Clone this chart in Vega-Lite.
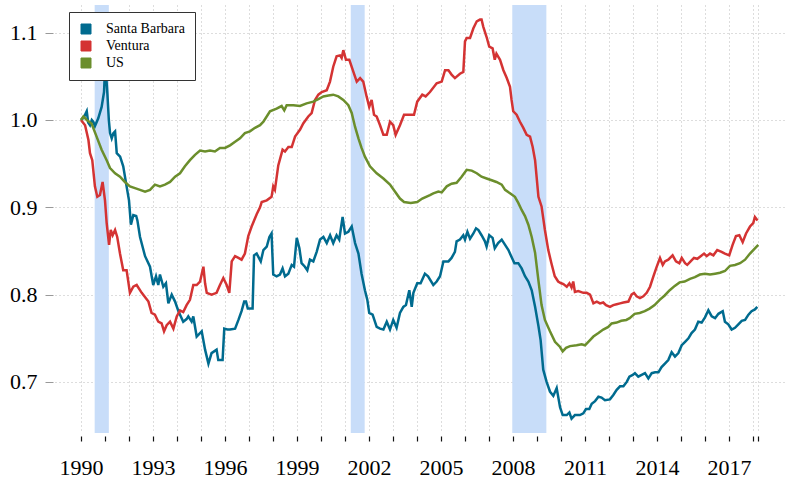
{
  "$schema": "https://vega.github.io/schema/vega-lite/v6.json",
  "width": 731,
  "height": 428,
  "autosize": {"type": "none"},
  "padding": {"left": 55, "top": 5, "right": 0, "bottom": 47},
  "background": "white",
  "config": {"view": {"stroke": null}, "font": "serif",
             "axisX": {"labelOverlap": false}},
  "datasets": {
    "rec": [
      {"start": 1990.57, "end": 1991.16},
      {"start": 2001.24, "end": 2001.82},
      {"start": 2007.97, "end": 2009.39}
    ],
    "series": [
      {"s":"Santa Barbara","t":1990.00,"v":1.000},{"s":"Santa Barbara","t":1990.12,"v":1.003},{"s":"Santa Barbara","t":1990.24,"v":1.010},{"s":"Santa Barbara","t":1990.30,"v":0.997},{"s":"Santa Barbara","t":1990.375,"v":0.994},{"s":"Santa Barbara","t":1990.45,"v":1.000},{"s":"Santa Barbara","t":1990.51,"v":0.998},{"s":"Santa Barbara","t":1990.58,"v":0.993},{"s":"Santa Barbara","t":1990.72,"v":1.002},{"s":"Santa Barbara","t":1990.86,"v":1.015},{"s":"Santa Barbara","t":1990.96,"v":1.032},{"s":"Santa Barbara","t":1991.00,"v":1.058},{"s":"Santa Barbara","t":1991.04,"v":1.055},{"s":"Santa Barbara","t":1991.10,"v":1.030},{"s":"Santa Barbara","t":1991.16,"v":1.000},{"s":"Santa Barbara","t":1991.21,"v":0.985},{"s":"Santa Barbara","t":1991.28,"v":0.979},{"s":"Santa Barbara","t":1991.35,"v":0.985},{"s":"Santa Barbara","t":1991.42,"v":0.987},{"s":"Santa Barbara","t":1991.49,"v":0.962},{"s":"Santa Barbara","t":1991.63,"v":0.958},{"s":"Santa Barbara","t":1991.76,"v":0.947},{"s":"Santa Barbara","t":1991.90,"v":0.924},{"s":"Santa Barbara","t":1992.00,"v":0.908},{"s":"Santa Barbara","t":1992.08,"v":0.880},{"s":"Santa Barbara","t":1992.18,"v":0.891},{"s":"Santa Barbara","t":1992.30,"v":0.890},{"s":"Santa Barbara","t":1992.35,"v":0.885},{"s":"Santa Barbara","t":1992.46,"v":0.866},{"s":"Santa Barbara","t":1992.67,"v":0.844},{"s":"Santa Barbara","t":1992.875,"v":0.832},{"s":"Santa Barbara","t":1993.01,"v":0.811},{"s":"Santa Barbara","t":1993.125,"v":0.821},{"s":"Santa Barbara","t":1993.22,"v":0.811},{"s":"Santa Barbara","t":1993.29,"v":0.823},{"s":"Santa Barbara","t":1993.43,"v":0.809},{"s":"Santa Barbara","t":1993.54,"v":0.813},{"s":"Santa Barbara","t":1993.64,"v":0.790},{"s":"Santa Barbara","t":1993.78,"v":0.800},{"s":"Santa Barbara","t":1993.92,"v":0.792},{"s":"Santa Barbara","t":1994.06,"v":0.781},{"s":"Santa Barbara","t":1994.26,"v":0.769},{"s":"Santa Barbara","t":1994.40,"v":0.772},{"s":"Santa Barbara","t":1994.47,"v":0.775},{"s":"Santa Barbara","t":1994.61,"v":0.769},{"s":"Santa Barbara","t":1994.68,"v":0.775},{"s":"Santa Barbara","t":1994.82,"v":0.752},{"s":"Santa Barbara","t":1995.03,"v":0.758},{"s":"Santa Barbara","t":1995.17,"v":0.737},{"s":"Santa Barbara","t":1995.31,"v":0.721},{"s":"Santa Barbara","t":1995.44,"v":0.733},{"s":"Santa Barbara","t":1995.65,"v":0.737},{"s":"Santa Barbara","t":1995.72,"v":0.725},{"s":"Santa Barbara","t":1995.90,"v":0.725},{"s":"Santa Barbara","t":1995.97,"v":0.761},{"s":"Santa Barbara","t":1996.10,"v":0.760},{"s":"Santa Barbara","t":1996.21,"v":0.760},{"s":"Santa Barbara","t":1996.42,"v":0.761},{"s":"Santa Barbara","t":1996.56,"v":0.771},{"s":"Santa Barbara","t":1996.69,"v":0.781},{"s":"Santa Barbara","t":1996.80,"v":0.792},{"s":"Santa Barbara","t":1996.875,"v":0.792},{"s":"Santa Barbara","t":1996.95,"v":0.784},{"s":"Santa Barbara","t":1997.15,"v":0.784},{"s":"Santa Barbara","t":1997.21,"v":0.845},{"s":"Santa Barbara","t":1997.32,"v":0.847},{"s":"Santa Barbara","t":1997.49,"v":0.838},{"s":"Santa Barbara","t":1997.60,"v":0.851},{"s":"Santa Barbara","t":1997.74,"v":0.855},{"s":"Santa Barbara","t":1997.85,"v":0.866},{"s":"Santa Barbara","t":1997.94,"v":0.870},{"s":"Santa Barbara","t":1998.01,"v":0.823},{"s":"Santa Barbara","t":1998.15,"v":0.821},{"s":"Santa Barbara","t":1998.29,"v":0.823},{"s":"Santa Barbara","t":1998.40,"v":0.830},{"s":"Santa Barbara","t":1998.50,"v":0.821},{"s":"Santa Barbara","t":1998.64,"v":0.824},{"s":"Santa Barbara","t":1998.78,"v":0.834},{"s":"Santa Barbara","t":1998.875,"v":0.832},{"s":"Santa Barbara","t":1998.99,"v":0.865},{"s":"Santa Barbara","t":1999.10,"v":0.853},{"s":"Santa Barbara","t":1999.19,"v":0.836},{"s":"Santa Barbara","t":1999.33,"v":0.832},{"s":"Santa Barbara","t":1999.43,"v":0.828},{"s":"Santa Barbara","t":1999.54,"v":0.840},{"s":"Santa Barbara","t":1999.68,"v":0.838},{"s":"Santa Barbara","t":1999.82,"v":0.849},{"s":"Santa Barbara","t":1999.96,"v":0.863},{"s":"Santa Barbara","t":2000.10,"v":0.866},{"s":"Santa Barbara","t":2000.24,"v":0.859},{"s":"Santa Barbara","t":2000.38,"v":0.868},{"s":"Santa Barbara","t":2000.51,"v":0.859},{"s":"Santa Barbara","t":2000.65,"v":0.868},{"s":"Santa Barbara","t":2000.76,"v":0.863},{"s":"Santa Barbara","t":2000.90,"v":0.889},{"s":"Santa Barbara","t":2001.00,"v":0.870},{"s":"Santa Barbara","t":2001.14,"v":0.872},{"s":"Santa Barbara","t":2001.28,"v":0.878},{"s":"Santa Barbara","t":2001.42,"v":0.859},{"s":"Santa Barbara","t":2001.56,"v":0.847},{"s":"Santa Barbara","t":2001.69,"v":0.824},{"s":"Santa Barbara","t":2001.83,"v":0.805},{"s":"Santa Barbara","t":2001.93,"v":0.794},{"s":"Santa Barbara","t":2002.01,"v":0.779},{"s":"Santa Barbara","t":2002.15,"v":0.777},{"s":"Santa Barbara","t":2002.32,"v":0.763},{"s":"Santa Barbara","t":2002.46,"v":0.761},{"s":"Santa Barbara","t":2002.60,"v":0.760},{"s":"Santa Barbara","t":2002.74,"v":0.769},{"s":"Santa Barbara","t":2002.875,"v":0.760},{"s":"Santa Barbara","t":2003.01,"v":0.771},{"s":"Santa Barbara","t":2003.15,"v":0.762},{"s":"Santa Barbara","t":2003.29,"v":0.779},{"s":"Santa Barbara","t":2003.43,"v":0.786},{"s":"Santa Barbara","t":2003.54,"v":0.788},{"s":"Santa Barbara","t":2003.68,"v":0.805},{"s":"Santa Barbara","t":2003.78,"v":0.786},{"s":"Santa Barbara","t":2003.85,"v":0.802},{"s":"Santa Barbara","t":2004.01,"v":0.813},{"s":"Santa Barbara","t":2004.15,"v":0.813},{"s":"Santa Barbara","t":2004.33,"v":0.824},{"s":"Santa Barbara","t":2004.46,"v":0.821},{"s":"Santa Barbara","t":2004.68,"v":0.811},{"s":"Santa Barbara","t":2004.82,"v":0.815},{"s":"Santa Barbara","t":2004.96,"v":0.821},{"s":"Santa Barbara","t":2005.10,"v":0.838},{"s":"Santa Barbara","t":2005.31,"v":0.838},{"s":"Santa Barbara","t":2005.44,"v":0.842},{"s":"Santa Barbara","t":2005.58,"v":0.849},{"s":"Santa Barbara","t":2005.65,"v":0.861},{"s":"Santa Barbara","t":2005.79,"v":0.863},{"s":"Santa Barbara","t":2005.93,"v":0.868},{"s":"Santa Barbara","t":2006.00,"v":0.863},{"s":"Santa Barbara","t":2006.10,"v":0.872},{"s":"Santa Barbara","t":2006.21,"v":0.864},{"s":"Santa Barbara","t":2006.35,"v":0.870},{"s":"Santa Barbara","t":2006.46,"v":0.876},{"s":"Santa Barbara","t":2006.56,"v":0.874},{"s":"Santa Barbara","t":2006.69,"v":0.868},{"s":"Santa Barbara","t":2006.83,"v":0.861},{"s":"Santa Barbara","t":2006.90,"v":0.855},{"s":"Santa Barbara","t":2007.01,"v":0.868},{"s":"Santa Barbara","t":2007.15,"v":0.865},{"s":"Santa Barbara","t":2007.24,"v":0.853},{"s":"Santa Barbara","t":2007.38,"v":0.859},{"s":"Santa Barbara","t":2007.53,"v":0.863},{"s":"Santa Barbara","t":2007.67,"v":0.857},{"s":"Santa Barbara","t":2007.81,"v":0.851},{"s":"Santa Barbara","t":2007.94,"v":0.843},{"s":"Santa Barbara","t":2008.06,"v":0.836},{"s":"Santa Barbara","t":2008.22,"v":0.836},{"s":"Santa Barbara","t":2008.36,"v":0.830},{"s":"Santa Barbara","t":2008.50,"v":0.821},{"s":"Santa Barbara","t":2008.64,"v":0.815},{"s":"Santa Barbara","t":2008.78,"v":0.805},{"s":"Santa Barbara","t":2008.92,"v":0.786},{"s":"Santa Barbara","t":2009.06,"v":0.764},{"s":"Santa Barbara","t":2009.15,"v":0.748},{"s":"Santa Barbara","t":2009.26,"v":0.714},{"s":"Santa Barbara","t":2009.40,"v":0.700},{"s":"Santa Barbara","t":2009.54,"v":0.689},{"s":"Santa Barbara","t":2009.68,"v":0.684},{"s":"Santa Barbara","t":2009.82,"v":0.693},{"s":"Santa Barbara","t":2009.96,"v":0.671},{"s":"Santa Barbara","t":2010.07,"v":0.662},{"s":"Santa Barbara","t":2010.24,"v":0.662},{"s":"Santa Barbara","t":2010.35,"v":0.665},{"s":"Santa Barbara","t":2010.44,"v":0.658},{"s":"Santa Barbara","t":2010.58,"v":0.662},{"s":"Santa Barbara","t":2010.79,"v":0.662},{"s":"Santa Barbara","t":2010.93,"v":0.664},{"s":"Santa Barbara","t":2011.04,"v":0.669},{"s":"Santa Barbara","t":2011.18,"v":0.669},{"s":"Santa Barbara","t":2011.28,"v":0.675},{"s":"Santa Barbara","t":2011.42,"v":0.678},{"s":"Santa Barbara","t":2011.56,"v":0.683},{"s":"Santa Barbara","t":2011.69,"v":0.682},{"s":"Santa Barbara","t":2011.83,"v":0.679},{"s":"Santa Barbara","t":2012.04,"v":0.680},{"s":"Santa Barbara","t":2012.18,"v":0.685},{"s":"Santa Barbara","t":2012.32,"v":0.691},{"s":"Santa Barbara","t":2012.46,"v":0.695},{"s":"Santa Barbara","t":2012.60,"v":0.695},{"s":"Santa Barbara","t":2012.74,"v":0.700},{"s":"Santa Barbara","t":2012.85,"v":0.706},{"s":"Santa Barbara","t":2012.99,"v":0.708},{"s":"Santa Barbara","t":2013.08,"v":0.710},{"s":"Santa Barbara","t":2013.22,"v":0.706},{"s":"Santa Barbara","t":2013.36,"v":0.708},{"s":"Santa Barbara","t":2013.50,"v":0.710},{"s":"Santa Barbara","t":2013.64,"v":0.704},{"s":"Santa Barbara","t":2013.78,"v":0.710},{"s":"Santa Barbara","t":2013.92,"v":0.711},{"s":"Santa Barbara","t":2014.06,"v":0.711},{"s":"Santa Barbara","t":2014.19,"v":0.717},{"s":"Santa Barbara","t":2014.33,"v":0.721},{"s":"Santa Barbara","t":2014.47,"v":0.725},{"s":"Santa Barbara","t":2014.61,"v":0.734},{"s":"Santa Barbara","t":2014.75,"v":0.729},{"s":"Santa Barbara","t":2014.89,"v":0.733},{"s":"Santa Barbara","t":2015.03,"v":0.742},{"s":"Santa Barbara","t":2015.17,"v":0.746},{"s":"Santa Barbara","t":2015.31,"v":0.750},{"s":"Santa Barbara","t":2015.44,"v":0.756},{"s":"Santa Barbara","t":2015.58,"v":0.760},{"s":"Santa Barbara","t":2015.72,"v":0.769},{"s":"Santa Barbara","t":2015.86,"v":0.768},{"s":"Santa Barbara","t":2016.00,"v":0.774},{"s":"Santa Barbara","t":2016.14,"v":0.782},{"s":"Santa Barbara","t":2016.28,"v":0.775},{"s":"Santa Barbara","t":2016.42,"v":0.773},{"s":"Santa Barbara","t":2016.56,"v":0.778},{"s":"Santa Barbara","t":2016.74,"v":0.781},{"s":"Santa Barbara","t":2016.83,"v":0.769},{"s":"Santa Barbara","t":2016.97,"v":0.766},{"s":"Santa Barbara","t":2017.11,"v":0.760},{"s":"Santa Barbara","t":2017.25,"v":0.762},{"s":"Santa Barbara","t":2017.39,"v":0.766},{"s":"Santa Barbara","t":2017.53,"v":0.770},{"s":"Santa Barbara","t":2017.67,"v":0.771},{"s":"Santa Barbara","t":2017.81,"v":0.777},{"s":"Santa Barbara","t":2017.94,"v":0.781},{"s":"Santa Barbara","t":2018.08,"v":0.783},{"s":"Santa Barbara","t":2018.18,"v":0.786},
      {"s":"Ventura","t":1990.00,"v":1.000},{"s":"Ventura","t":1990.17,"v":0.994},{"s":"Ventura","t":1990.31,"v":0.977},{"s":"Ventura","t":1990.375,"v":0.962},{"s":"Ventura","t":1990.47,"v":0.954},{"s":"Ventura","t":1990.58,"v":0.924},{"s":"Ventura","t":1990.68,"v":0.912},{"s":"Ventura","t":1990.79,"v":0.914},{"s":"Ventura","t":1990.90,"v":0.929},{"s":"Ventura","t":1991.00,"v":0.908},{"s":"Ventura","t":1991.07,"v":0.882},{"s":"Ventura","t":1991.17,"v":0.857},{"s":"Ventura","t":1991.24,"v":0.874},{"s":"Ventura","t":1991.32,"v":0.868},{"s":"Ventura","t":1991.42,"v":0.874},{"s":"Ventura","t":1991.51,"v":0.866},{"s":"Ventura","t":1991.625,"v":0.847},{"s":"Ventura","t":1991.76,"v":0.828},{"s":"Ventura","t":1991.90,"v":0.828},{"s":"Ventura","t":1992.04,"v":0.802},{"s":"Ventura","t":1992.18,"v":0.809},{"s":"Ventura","t":1992.32,"v":0.811},{"s":"Ventura","t":1992.53,"v":0.802},{"s":"Ventura","t":1992.81,"v":0.792},{"s":"Ventura","t":1992.94,"v":0.779},{"s":"Ventura","t":1993.08,"v":0.777},{"s":"Ventura","t":1993.22,"v":0.769},{"s":"Ventura","t":1993.36,"v":0.767},{"s":"Ventura","t":1993.46,"v":0.758},{"s":"Ventura","t":1993.57,"v":0.765},{"s":"Ventura","t":1993.71,"v":0.769},{"s":"Ventura","t":1993.85,"v":0.761},{"s":"Ventura","t":1993.99,"v":0.775},{"s":"Ventura","t":1994.125,"v":0.782},{"s":"Ventura","t":1994.26,"v":0.780},{"s":"Ventura","t":1994.40,"v":0.788},{"s":"Ventura","t":1994.54,"v":0.794},{"s":"Ventura","t":1994.68,"v":0.811},{"s":"Ventura","t":1994.82,"v":0.811},{"s":"Ventura","t":1994.96,"v":0.815},{"s":"Ventura","t":1995.10,"v":0.832},{"s":"Ventura","t":1995.17,"v":0.813},{"s":"Ventura","t":1995.24,"v":0.802},{"s":"Ventura","t":1995.44,"v":0.800},{"s":"Ventura","t":1995.65,"v":0.802},{"s":"Ventura","t":1995.79,"v":0.811},{"s":"Ventura","t":1995.93,"v":0.819},{"s":"Ventura","t":1996.07,"v":0.811},{"s":"Ventura","t":1996.18,"v":0.802},{"s":"Ventura","t":1996.28,"v":0.838},{"s":"Ventura","t":1996.42,"v":0.844},{"s":"Ventura","t":1996.56,"v":0.842},{"s":"Ventura","t":1996.69,"v":0.840},{"s":"Ventura","t":1996.83,"v":0.847},{"s":"Ventura","t":1996.97,"v":0.867},{"s":"Ventura","t":1997.11,"v":0.878},{"s":"Ventura","t":1997.32,"v":0.892},{"s":"Ventura","t":1997.46,"v":0.900},{"s":"Ventura","t":1997.53,"v":0.906},{"s":"Ventura","t":1997.74,"v":0.908},{"s":"Ventura","t":1997.94,"v":0.912},{"s":"Ventura","t":1998.01,"v":0.924},{"s":"Ventura","t":1998.08,"v":0.920},{"s":"Ventura","t":1998.22,"v":0.948},{"s":"Ventura","t":1998.40,"v":0.966},{"s":"Ventura","t":1998.50,"v":0.964},{"s":"Ventura","t":1998.64,"v":0.969},{"s":"Ventura","t":1998.78,"v":0.969},{"s":"Ventura","t":1998.92,"v":0.981},{"s":"Ventura","t":1999.13,"v":0.989},{"s":"Ventura","t":1999.26,"v":0.996},{"s":"Ventura","t":1999.47,"v":1.004},{"s":"Ventura","t":1999.61,"v":1.008},{"s":"Ventura","t":1999.75,"v":1.023},{"s":"Ventura","t":1999.89,"v":1.029},{"s":"Ventura","t":2000.03,"v":1.032},{"s":"Ventura","t":2000.24,"v":1.034},{"s":"Ventura","t":2000.375,"v":1.044},{"s":"Ventura","t":2000.51,"v":1.061},{"s":"Ventura","t":2000.65,"v":1.073},{"s":"Ventura","t":2000.79,"v":1.074},{"s":"Ventura","t":2000.86,"v":1.071},{"s":"Ventura","t":2000.93,"v":1.080},{"s":"Ventura","t":2001.04,"v":1.069},{"s":"Ventura","t":2001.18,"v":1.069},{"s":"Ventura","t":2001.35,"v":1.055},{"s":"Ventura","t":2001.49,"v":1.044},{"s":"Ventura","t":2001.63,"v":1.048},{"s":"Ventura","t":2001.76,"v":1.044},{"s":"Ventura","t":2001.90,"v":1.027},{"s":"Ventura","t":2002.01,"v":1.015},{"s":"Ventura","t":2002.11,"v":1.023},{"s":"Ventura","t":2002.21,"v":1.006},{"s":"Ventura","t":2002.32,"v":1.004},{"s":"Ventura","t":2002.46,"v":0.994},{"s":"Ventura","t":2002.60,"v":0.983},{"s":"Ventura","t":2002.74,"v":0.983},{"s":"Ventura","t":2002.875,"v":0.998},{"s":"Ventura","t":2003.01,"v":0.994},{"s":"Ventura","t":2003.11,"v":0.983},{"s":"Ventura","t":2003.29,"v":0.994},{"s":"Ventura","t":2003.46,"v":1.006},{"s":"Ventura","t":2003.67,"v":1.006},{"s":"Ventura","t":2003.875,"v":1.006},{"s":"Ventura","t":2004.01,"v":1.021},{"s":"Ventura","t":2004.22,"v":1.029},{"s":"Ventura","t":2004.36,"v":1.027},{"s":"Ventura","t":2004.54,"v":1.032},{"s":"Ventura","t":2004.82,"v":1.042},{"s":"Ventura","t":2005.03,"v":1.044},{"s":"Ventura","t":2005.17,"v":1.057},{"s":"Ventura","t":2005.31,"v":1.057},{"s":"Ventura","t":2005.44,"v":1.052},{"s":"Ventura","t":2005.58,"v":1.048},{"s":"Ventura","t":2005.79,"v":1.053},{"s":"Ventura","t":2005.93,"v":1.055},{"s":"Ventura","t":2006.00,"v":1.090},{"s":"Ventura","t":2006.07,"v":1.094},{"s":"Ventura","t":2006.21,"v":1.094},{"s":"Ventura","t":2006.35,"v":1.105},{"s":"Ventura","t":2006.49,"v":1.113},{"s":"Ventura","t":2006.625,"v":1.115},{"s":"Ventura","t":2006.69,"v":1.115},{"s":"Ventura","t":2006.76,"v":1.107},{"s":"Ventura","t":2006.90,"v":1.095},{"s":"Ventura","t":2007.01,"v":1.084},{"s":"Ventura","t":2007.15,"v":1.082},{"s":"Ventura","t":2007.24,"v":1.069},{"s":"Ventura","t":2007.31,"v":1.076},{"s":"Ventura","t":2007.46,"v":1.069},{"s":"Ventura","t":2007.60,"v":1.057},{"s":"Ventura","t":2007.74,"v":1.048},{"s":"Ventura","t":2007.875,"v":1.038},{"s":"Ventura","t":2007.94,"v":1.023},{"s":"Ventura","t":2008.01,"v":1.010},{"s":"Ventura","t":2008.15,"v":1.006},{"s":"Ventura","t":2008.29,"v":0.998},{"s":"Ventura","t":2008.43,"v":0.991},{"s":"Ventura","t":2008.57,"v":0.983},{"s":"Ventura","t":2008.71,"v":0.981},{"s":"Ventura","t":2008.82,"v":0.969},{"s":"Ventura","t":2008.92,"v":0.954},{"s":"Ventura","t":2009.06,"v":0.912},{"s":"Ventura","t":2009.19,"v":0.901},{"s":"Ventura","t":2009.33,"v":0.874},{"s":"Ventura","t":2009.47,"v":0.851},{"s":"Ventura","t":2009.60,"v":0.836},{"s":"Ventura","t":2009.74,"v":0.821},{"s":"Ventura","t":2009.88,"v":0.815},{"s":"Ventura","t":2010.01,"v":0.813},{"s":"Ventura","t":2010.10,"v":0.812},{"s":"Ventura","t":2010.24,"v":0.809},{"s":"Ventura","t":2010.35,"v":0.813},{"s":"Ventura","t":2010.44,"v":0.808},{"s":"Ventura","t":2010.51,"v":0.815},{"s":"Ventura","t":2010.58,"v":0.803},{"s":"Ventura","t":2010.72,"v":0.804},{"s":"Ventura","t":2010.93,"v":0.802},{"s":"Ventura","t":2011.07,"v":0.802},{"s":"Ventura","t":2011.21,"v":0.800},{"s":"Ventura","t":2011.35,"v":0.790},{"s":"Ventura","t":2011.49,"v":0.792},{"s":"Ventura","t":2011.625,"v":0.790},{"s":"Ventura","t":2011.76,"v":0.791},{"s":"Ventura","t":2011.875,"v":0.788},{"s":"Ventura","t":2012.04,"v":0.786},{"s":"Ventura","t":2012.18,"v":0.788},{"s":"Ventura","t":2012.32,"v":0.789},{"s":"Ventura","t":2012.46,"v":0.790},{"s":"Ventura","t":2012.60,"v":0.791},{"s":"Ventura","t":2012.81,"v":0.792},{"s":"Ventura","t":2012.94,"v":0.800},{"s":"Ventura","t":2013.04,"v":0.802},{"s":"Ventura","t":2013.15,"v":0.798},{"s":"Ventura","t":2013.29,"v":0.796},{"s":"Ventura","t":2013.43,"v":0.798},{"s":"Ventura","t":2013.57,"v":0.802},{"s":"Ventura","t":2013.71,"v":0.809},{"s":"Ventura","t":2013.85,"v":0.821},{"s":"Ventura","t":2013.99,"v":0.832},{"s":"Ventura","t":2014.125,"v":0.842},{"s":"Ventura","t":2014.24,"v":0.834},{"s":"Ventura","t":2014.33,"v":0.838},{"s":"Ventura","t":2014.47,"v":0.840},{"s":"Ventura","t":2014.65,"v":0.845},{"s":"Ventura","t":2014.79,"v":0.838},{"s":"Ventura","t":2014.93,"v":0.836},{"s":"Ventura","t":2015.03,"v":0.842},{"s":"Ventura","t":2015.17,"v":0.836},{"s":"Ventura","t":2015.26,"v":0.834},{"s":"Ventura","t":2015.40,"v":0.838},{"s":"Ventura","t":2015.54,"v":0.842},{"s":"Ventura","t":2015.68,"v":0.841},{"s":"Ventura","t":2015.82,"v":0.844},{"s":"Ventura","t":2015.96,"v":0.847},{"s":"Ventura","t":2016.07,"v":0.844},{"s":"Ventura","t":2016.21,"v":0.847},{"s":"Ventura","t":2016.35,"v":0.845},{"s":"Ventura","t":2016.51,"v":0.851},{"s":"Ventura","t":2016.69,"v":0.849},{"s":"Ventura","t":2016.83,"v":0.847},{"s":"Ventura","t":2017.01,"v":0.845},{"s":"Ventura","t":2017.15,"v":0.857},{"s":"Ventura","t":2017.29,"v":0.867},{"s":"Ventura","t":2017.43,"v":0.868},{"s":"Ventura","t":2017.57,"v":0.860},{"s":"Ventura","t":2017.71,"v":0.870},{"s":"Ventura","t":2017.875,"v":0.878},{"s":"Ventura","t":2018.01,"v":0.882},{"s":"Ventura","t":2018.08,"v":0.889},{"s":"Ventura","t":2018.19,"v":0.885},
      {"s":"US","t":1990.00,"v":1.000},{"s":"US","t":1990.10,"v":1.004},{"s":"US","t":1990.24,"v":1.000},{"s":"US","t":1990.44,"v":0.996},{"s":"US","t":1990.65,"v":0.981},{"s":"US","t":1990.86,"v":0.966},{"s":"US","t":1991.07,"v":0.954},{"s":"US","t":1991.21,"v":0.945},{"s":"US","t":1991.42,"v":0.939},{"s":"US","t":1991.625,"v":0.935},{"s":"US","t":1991.83,"v":0.929},{"s":"US","t":1992.04,"v":0.924},{"s":"US","t":1992.25,"v":0.922},{"s":"US","t":1992.46,"v":0.920},{"s":"US","t":1992.67,"v":0.918},{"s":"US","t":1992.875,"v":0.920},{"s":"US","t":1993.08,"v":0.926},{"s":"US","t":1993.29,"v":0.924},{"s":"US","t":1993.50,"v":0.926},{"s":"US","t":1993.71,"v":0.929},{"s":"US","t":1993.92,"v":0.935},{"s":"US","t":1994.125,"v":0.939},{"s":"US","t":1994.33,"v":0.947},{"s":"US","t":1994.54,"v":0.954},{"s":"US","t":1994.75,"v":0.960},{"s":"US","t":1994.96,"v":0.965},{"s":"US","t":1995.17,"v":0.964},{"s":"US","t":1995.375,"v":0.965},{"s":"US","t":1995.58,"v":0.964},{"s":"US","t":1995.79,"v":0.968},{"s":"US","t":1996.00,"v":0.968},{"s":"US","t":1996.21,"v":0.971},{"s":"US","t":1996.42,"v":0.975},{"s":"US","t":1996.625,"v":0.979},{"s":"US","t":1996.83,"v":0.985},{"s":"US","t":1997.04,"v":0.987},{"s":"US","t":1997.25,"v":0.991},{"s":"US","t":1997.46,"v":0.994},{"s":"US","t":1997.60,"v":0.998},{"s":"US","t":1997.875,"v":1.010},{"s":"US","t":1998.15,"v":1.013},{"s":"US","t":1998.36,"v":1.016},{"s":"US","t":1998.47,"v":1.011},{"s":"US","t":1998.57,"v":1.017},{"s":"US","t":1998.85,"v":1.017},{"s":"US","t":1999.125,"v":1.016},{"s":"US","t":1999.40,"v":1.019},{"s":"US","t":1999.68,"v":1.021},{"s":"US","t":1999.89,"v":1.024},{"s":"US","t":2000.10,"v":1.027},{"s":"US","t":2000.31,"v":1.028},{"s":"US","t":2000.51,"v":1.029},{"s":"US","t":2000.72,"v":1.027},{"s":"US","t":2000.93,"v":1.023},{"s":"US","t":2001.14,"v":1.017},{"s":"US","t":2001.28,"v":1.008},{"s":"US","t":2001.42,"v":0.992},{"s":"US","t":2001.56,"v":0.979},{"s":"US","t":2001.69,"v":0.968},{"s":"US","t":2001.83,"v":0.958},{"s":"US","t":2002.04,"v":0.947},{"s":"US","t":2002.32,"v":0.939},{"s":"US","t":2002.60,"v":0.933},{"s":"US","t":2002.875,"v":0.926},{"s":"US","t":2003.08,"v":0.918},{"s":"US","t":2003.29,"v":0.910},{"s":"US","t":2003.46,"v":0.906},{"s":"US","t":2003.74,"v":0.905},{"s":"US","t":2004.01,"v":0.906},{"s":"US","t":2004.22,"v":0.910},{"s":"US","t":2004.54,"v":0.914},{"s":"US","t":2004.68,"v":0.916},{"s":"US","t":2004.89,"v":0.918},{"s":"US","t":2005.03,"v":0.917},{"s":"US","t":2005.24,"v":0.924},{"s":"US","t":2005.44,"v":0.927},{"s":"US","t":2005.65,"v":0.928},{"s":"US","t":2005.86,"v":0.935},{"s":"US","t":2006.07,"v":0.943},{"s":"US","t":2006.28,"v":0.942},{"s":"US","t":2006.49,"v":0.939},{"s":"US","t":2006.69,"v":0.935},{"s":"US","t":2006.90,"v":0.933},{"s":"US","t":2007.11,"v":0.931},{"s":"US","t":2007.31,"v":0.929},{"s":"US","t":2007.53,"v":0.926},{"s":"US","t":2007.67,"v":0.920},{"s":"US","t":2007.875,"v":0.916},{"s":"US","t":2008.08,"v":0.912},{"s":"US","t":2008.22,"v":0.905},{"s":"US","t":2008.36,"v":0.897},{"s":"US","t":2008.50,"v":0.890},{"s":"US","t":2008.64,"v":0.880},{"s":"US","t":2008.78,"v":0.866},{"s":"US","t":2008.92,"v":0.848},{"s":"US","t":2009.06,"v":0.816},{"s":"US","t":2009.19,"v":0.788},{"s":"US","t":2009.33,"v":0.771},{"s":"US","t":2009.54,"v":0.758},{"s":"US","t":2009.75,"v":0.746},{"s":"US","t":2009.96,"v":0.740},{"s":"US","t":2010.07,"v":0.735},{"s":"US","t":2010.21,"v":0.739},{"s":"US","t":2010.375,"v":0.741},{"s":"US","t":2010.65,"v":0.742},{"s":"US","t":2010.86,"v":0.743},{"s":"US","t":2011.00,"v":0.742},{"s":"US","t":2011.14,"v":0.746},{"s":"US","t":2011.35,"v":0.752},{"s":"US","t":2011.56,"v":0.756},{"s":"US","t":2011.76,"v":0.760},{"s":"US","t":2011.97,"v":0.763},{"s":"US","t":2012.11,"v":0.767},{"s":"US","t":2012.32,"v":0.768},{"s":"US","t":2012.51,"v":0.770},{"s":"US","t":2012.72,"v":0.771},{"s":"US","t":2012.86,"v":0.773},{"s":"US","t":2013.07,"v":0.778},{"s":"US","t":2013.28,"v":0.779},{"s":"US","t":2013.49,"v":0.781},{"s":"US","t":2013.69,"v":0.784},{"s":"US","t":2013.90,"v":0.788},{"s":"US","t":2014.11,"v":0.794},{"s":"US","t":2014.32,"v":0.799},{"s":"US","t":2014.53,"v":0.805},{"s":"US","t":2014.74,"v":0.810},{"s":"US","t":2014.94,"v":0.814},{"s":"US","t":2015.15,"v":0.815},{"s":"US","t":2015.375,"v":0.818},{"s":"US","t":2015.58,"v":0.820},{"s":"US","t":2015.79,"v":0.823},{"s":"US","t":2016.00,"v":0.824},{"s":"US","t":2016.21,"v":0.823},{"s":"US","t":2016.42,"v":0.824},{"s":"US","t":2016.625,"v":0.825},{"s":"US","t":2016.83,"v":0.827},{"s":"US","t":2017.04,"v":0.833},{"s":"US","t":2017.25,"v":0.834},{"s":"US","t":2017.46,"v":0.836},{"s":"US","t":2017.67,"v":0.840},{"s":"US","t":2017.875,"v":0.847},{"s":"US","t":2018.08,"v":0.853},{"s":"US","t":2018.22,"v":0.857}
    ]
  },
  "layer": [
    {
      "data": {"name": "rec"},
      "mark": {"type": "rect", "color": "#c8ddf9", "opacity": 1},
      "encoding": {
        "x": {"field": "start", "type": "quantitative",
              "scale": {"domain": [1988.917, 2019.375], "nice": false, "zero": false},
              "axis": {"values": [1990,1991,1992,1993,1994,1995,1996,1997,1998,1999,2000,2001,2002,2003,2004,2005,2006,2007,2008,2009,2010,2011,2012,2013,2014,2015,2016,2017,2018,2018.22],
                       "labelExpr": "(datum.value - 1990) % 3 === 0 ? '' + datum.value : ''",
                       "title": null, "domain": false, "offset": 3, "tickSize": 5, "tickColor": "#111", "tickWidth": 1.2,
                       "labelFont": "Times New Roman", "labelFontSize": 22, "labelColor": "#000", "labelPadding": 16,
                       "labelOverlap": false, "labelFlush": false, "labelBound": false,
                       "grid": true, "gridDash": [1, 3], "gridColor": "#bbbbbb", "gridWidth": 1}},
        "x2": {"field": "end"}
      }
    },
    {
      "data": {"name": "series"},
      "mark": {"type": "line", "strokeWidth": 2.5},
      "encoding": {
        "x": {"field": "t", "type": "quantitative",
              "scale": {"domain": [1988.917, 2019.375], "nice": false, "zero": false},
              "axis": {"values": [1990,1991,1992,1993,1994,1995,1996,1997,1998,1999,2000,2001,2002,2003,2004,2005,2006,2007,2008,2009,2010,2011,2012,2013,2014,2015,2016,2017,2018,2018.22],
                       "labelExpr": "(datum.value - 1990) % 3 === 0 ? '' + datum.value : ''",
                       "title": null, "domain": false, "offset": 3, "tickSize": 5, "tickColor": "#111", "tickWidth": 1.2,
                       "labelFont": "Times New Roman", "labelFontSize": 22, "labelColor": "#000", "labelPadding": 16,
                       "labelOverlap": false, "labelFlush": false, "labelBound": false,
                       "grid": true, "gridDash": [1, 3], "gridColor": "#bbbbbb", "gridWidth": 1}},
        "y": {"field": "v", "type": "quantitative",
              "scale": {"domain": [0.6415, 1.1317], "nice": false, "zero": false},
              "axis": {"values": [0.7, 0.8, 0.9, 1.0, 1.1], "format": ".1f", "title": null, "domain": false,
                       "offset": 2, "tickSize": 8, "tickColor": "#999", "tickWidth": 1,
                       "labelFont": "serif", "labelFontSize": 22, "labelColor": "#000", "labelPadding": 8,
                       "grid": true, "gridDash": [1, 3], "gridColor": "#bbbbbb", "gridWidth": 1}},
        "color": {"field": "s", "type": "nominal",
                  "scale": {"domain": ["Santa Barbara", "Ventura", "US"], "range": ["#006b8f", "#d43333", "#6b8e2c"]},
                  "legend": {"title": null, "orient": "none", "legendX": 14, "legendY": 7,
                             "symbolType": "square", "symbolSize": 100, "symbolStrokeWidth": 1,
                             "labelFont": "Liberation Serif", "labelFontSize": 14, "labelColor": "#000",
                             "strokeColor": "#333", "fillColor": "white", "padding": 10, "rowPadding": 3, "labelOffset": 13,
                             "encode": {"symbols": {"update": {"fill": {"scale": "color", "field": "value"}, "stroke": {"value": "#000"}, "opacity": {"value": 1}}}}}}
      }
    }
  ]
}
